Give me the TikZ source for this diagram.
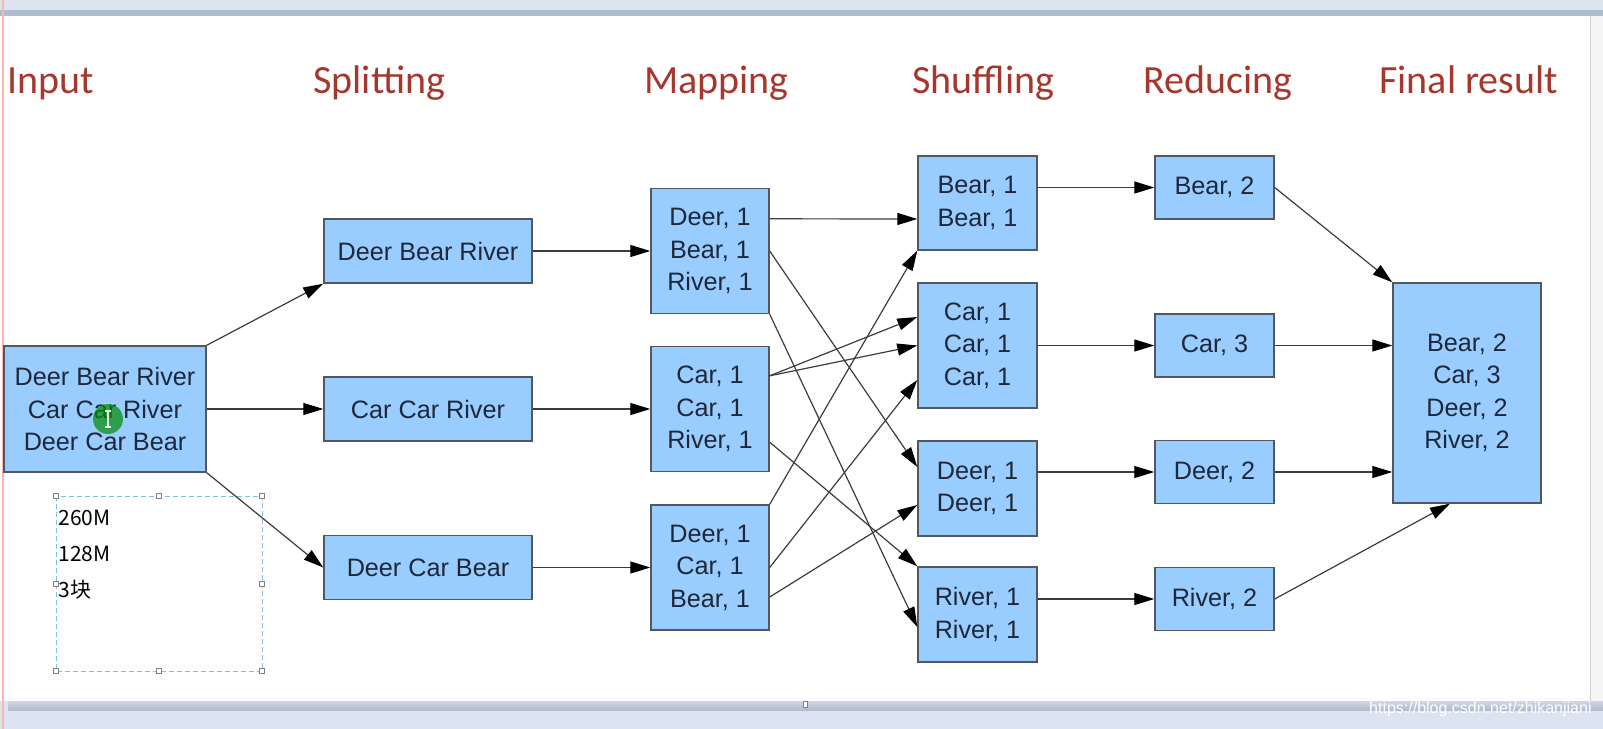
\documentclass[tikz,border=0pt]{standalone}
\usepackage{fontspec}
\setmainfont{Liberation Sans}
\newfontfamily\titlefont{Carlito}
\newfontfamily\cjkfont{Noto Sans CJK SC}
\usetikzlibrary{arrows.meta}
\definecolor{boxblue}{RGB}{153,204,255}
\definecolor{boxline}{RGB}{80,88,96}
\definecolor{boxtext}{RGB}{30,40,56}
\definecolor{titlered}{RGB}{165,55,45}
\definecolor{flowgray}{RGB}{60,60,60}
\definecolor{selblue}{RGB}{120,196,226}
\definecolor{barblue}{RGB}{220,228,242}
\definecolor{bardark}{RGB}{176,188,208}
\tikzset{
    mr-box/.style = {draw=boxline, fill=boxblue, line width=0.7pt, rectangle, inner sep=0pt, align=center, text=boxtext, font=\fontsize{12.6pt}{16.25pt}\selectfont},
    stage-title/.style = {anchor=base west, inner sep=0pt, text=titlered, font=\titlefont\fontsize{20pt}{24pt}\selectfont},
    flow-arrow/.style = {draw=flowgray, line width=0.6pt, -{Triangle[length=10pt,width=6pt,color=black]}},
    sel-handle/.style = {draw=gray, fill=white, line width=0.3pt, minimum size=2.5pt, inner sep=0pt, rectangle},
    note-text/.style = {anchor=west, inner sep=0pt, font=\cjkfont\fontsize{10.5pt}{12pt}\selectfont},
}

\begin{document}
\begin{tikzpicture}[x=0.5pt, y=-0.5pt]
\useasboundingbox (0,0) rectangle (1603,729);
% window chrome
\fill[barblue] (0,0) rectangle (1603,10);
\fill[bardark] (0,10) rectangle (1603,16);
\fill[gray!8] (1590,16) rectangle (1603,701);
\draw[gray!35, line width=0.5pt] (1590,16) -- (1590,701);
\fill[barblue] (0,701) rectangle (1603,729);
\shade[top color=bardark!60, bottom color=bardark] (8,701) rectangle (1603,710);
\draw[red!30, line width=1pt] (2.5,0) -- (2.5,729);
\draw[gray, fill=white, line width=0.3pt] (803,701) rectangle (807,707);
\node[anchor=east, inner sep=0pt, text=white, font=\fontsize{8pt}{9pt}\selectfont] (watermark) at (1592,709) {https://blog.csdn.net/zhikanjiani};

\node[stage-title] (title-input) at (7,93) {Input};
\node[stage-title] (title-split) at (313,93) {Splitting};
\node[stage-title] (title-map) at (644,93) {Mapping};
\node[stage-title] (title-shuffle) at (912,93) {Shuffling};
\node[stage-title] (title-reduce) at (1143,93) {Reducing};
\node[stage-title] (title-final) at (1379,93) {Final result};

% selection frame
\draw[selblue, line width=0.5pt, dash pattern=on 2.5pt off 1.5pt] (56,496) rectangle (262,671);
\foreach \hx/\hy [count=\i] in {56/496,159/496,262/496,56/584,262/584,56/671,159/671,262/671}
    \node[sel-handle] (handle-\i) at (\hx,\hy) {};
\node[note-text] (size-total) at (58,518) {260M};
\node[note-text] (size-block) at (58,554) {128M};
\node[note-text] (block-count) at (58,590) {3块};

\node[mr-box, minimum width=101pt, minimum height=63pt] (input) at (105,409) {Deer Bear River\\Car Car River\\Deer Car Bear};

\node[mr-box, minimum width=104pt, minimum height=32pt] (split-a) at (428,251) {Deer Bear River};
\node[mr-box, minimum width=104pt, minimum height=32pt] (split-b) at (428,409) {Car Car River};
\node[mr-box, minimum width=104pt, minimum height=32pt] (split-c) at (428,567.5) {Deer Car Bear};

\node[mr-box, minimum width=59pt, minimum height=62.5pt] (map-a) at (710,251) {Deer, 1\\Bear, 1\\River, 1};
\node[mr-box, minimum width=59pt, minimum height=62.5pt] (map-b) at (710,409) {Car, 1\\Car, 1\\River, 1};
\node[mr-box, minimum width=59pt, minimum height=62.5pt] (map-c) at (710,567.5) {Deer, 1\\Car, 1\\Bear, 1};

\node[mr-box, minimum width=59.5pt, minimum height=47pt] (shuf-bear) at (977.5,203) {Bear, 1\\Bear, 1};
\node[mr-box, minimum width=59.5pt, minimum height=62.5pt] (shuf-car) at (977.5,345.5) {Car, 1\\Car, 1\\Car, 1};
\node[mr-box, minimum width=59.5pt, minimum height=47.5pt] (shuf-deer) at (977.5,488.5) {Deer, 1\\Deer, 1};
\node[mr-box, minimum width=59.5pt, minimum height=47.5pt] (shuf-river) at (977.5,614.5) {River, 1\\River, 1};

\node[mr-box, minimum width=59.5pt, minimum height=31.5pt] (red-bear) at (1214.5,187.5) {Bear, 2};
\node[mr-box, minimum width=59.5pt, minimum height=31.5pt] (red-car) at (1214.5,345.5) {Car, 3};
\node[mr-box, minimum width=59.5pt, minimum height=31.5pt] (red-deer) at (1214.5,472) {Deer, 2};
\node[mr-box, minimum width=59.5pt, minimum height=31.5pt] (red-river) at (1214.5,599) {River, 2};

\node[mr-box, minimum width=74pt, minimum height=110pt] (final) at (1467,393) {Bear, 2\\Car, 3\\Deer, 2\\River, 2};

\draw[flow-arrow] (input.north east) -- (split-a.south west);
\draw[flow-arrow] (input.east) -- (split-b.west);
\draw[flow-arrow] (input.south east) -- (split-c.west);

\draw[flow-arrow] (split-a.east) -- (map-a.west);
\draw[flow-arrow] (split-b.east) -- (map-b.west);
\draw[flow-arrow] (split-c.east) -- (map-c.west);

\draw[flow-arrow] ([yshift=-15.5pt]map-a.north east) -- ([yshift=-8pt]shuf-bear.west);
\draw[flow-arrow] (map-a.east) -- ([yshift=10.75pt]shuf-deer.west);
\draw[flow-arrow] (map-a.south east) -- ([yshift=-6.25pt]shuf-river.west);
\draw[flow-arrow] ([yshift=-15pt]map-b.north east) -- ([yshift=14.25pt]shuf-car.west);
\draw[flow-arrow] ([yshift=-15pt]map-b.north east) -- (shuf-car.west);
\draw[flow-arrow] ([yshift=15pt]map-b.south east) -- (shuf-river.north west);
\draw[flow-arrow] (map-c.north east) -- (shuf-bear.south west);
\draw[flow-arrow] (map-c.east) -- ([yshift=-17.25pt]shuf-car.west);
\draw[flow-arrow] ([yshift=-14.75pt]map-c.east) -- ([yshift=-8.25pt]shuf-deer.west);

\draw[flow-arrow] (shuf-bear.east |- red-bear.west) -- (red-bear.west);
\draw[flow-arrow] (shuf-car.east) -- (red-car.west);
\draw[flow-arrow] (shuf-deer.east |- red-deer.west) -- (red-deer.west);
\draw[flow-arrow] (shuf-river.east |- red-river.west) -- (red-river.west);

\draw[flow-arrow] (red-bear.east) -- (final.north west);
\draw[flow-arrow] (red-car.east) -- (final.west |- red-car.east);
\draw[flow-arrow] (red-deer.east) -- (final.west |- red-deer.east);
\draw[flow-arrow] (red-river.east) -- ([xshift=-8.5pt]final.south);

% pointer mark
\fill[green!55!black, opacity=0.7] (108,419) circle[radius=7.5pt];
\draw[gray!15, line width=0.6pt] (108,411) -- (108,427) (105,411) -- (111,411) (105,427) -- (111,427);
\end{tikzpicture}
\end{document}
